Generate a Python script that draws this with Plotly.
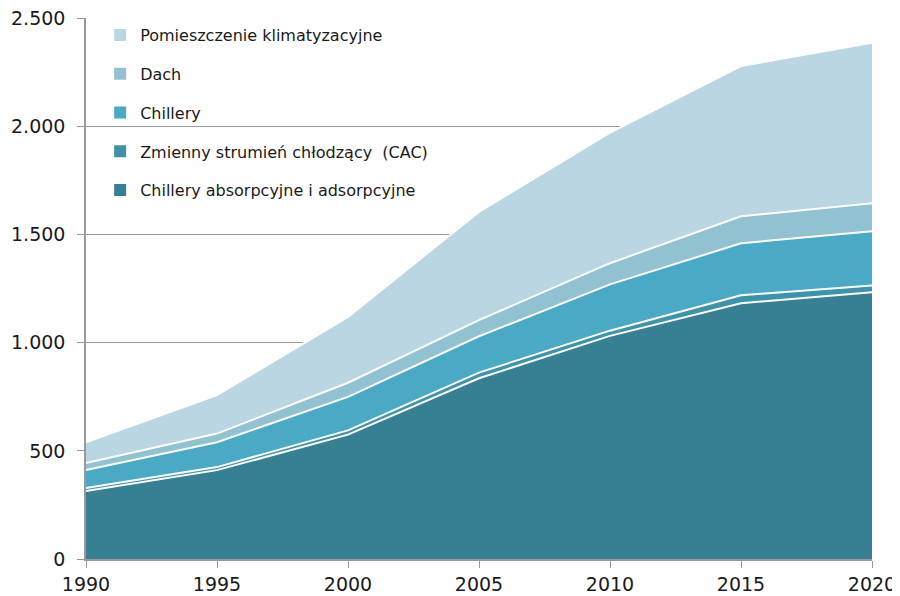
import plotly.graph_objects as go

years = [1990, 1995, 2000, 2005, 2010, 2015, 2020]

# stacked layers, bottom to top
absorpcyjne = [314, 411, 575, 836, 1032, 1183, 1234]
cac = [14, 14, 20, 26, 24, 37, 31]
chillery = [83, 115, 155, 168, 214, 240, 251]
dach = [33, 40, 65, 75, 98, 125, 129]
pomieszczenie = [96, 178, 305, 500, 604, 695, 743]

series = [
    ("Chillery absorpcyjne i adsorpcyjne", absorpcyjne, "#377f93"),
    ("Zmienny strumień chłodzący  (CAC)", cac, "#3d93aa"),
    ("Chillery", chillery, "#4aaac5"),
    ("Dach", dach, "#92c1d1"),
    ("Pomieszczenie klimatyzacyjne", pomieszczenie, "#b9d6e2"),
]

fig = go.Figure()
for name, values, color in series:
    fig.add_trace(
        go.Scatter(
            x=years,
            y=values,
            name=name,
            mode="lines",
            stackgroup="one",
            fillcolor=color,
            line=dict(color="white", width=2),
            showlegend=False,
        )
    )

# legend entries with square swatches, top layer first
for i, (name, values, color) in enumerate(reversed(series)):
    fig.add_trace(
        go.Scatter(
            x=[None],
            y=[None],
            name=name,
            mode="markers",
            legendgroup=str(i),
            marker=dict(symbol="square", size=12, color=color),
        )
    )

# page body has an 8px margin, so the figure is a bit smaller than the window
fig.update_layout(
    width=892,
    height=588,
    margin=dict(l=78, r=28, t=10, b=37),
    plot_bgcolor="white",
    paper_bgcolor="white",
    separators=",.",
    font=dict(family="DejaVu Sans", color="#1a1a1a"),
    showlegend=True,
    legend=dict(
        x=0.018,
        y=1.0,
        xanchor="left",
        yanchor="top",
        traceorder="grouped",
        tracegroupgap=15,
        bgcolor="rgba(0,0,0,0)",
        font=dict(size=16, family="DejaVu Sans", color="#1a1a1a"),
        itemwidth=30,
    ),
)

fig.update_xaxes(
    range=[1990, 2020],
    tickvals=years,
    showgrid=False,
    showline=True,
    linecolor="#999999",
    linewidth=1.5,
    ticks="outside",
    ticklen=7,
    tickcolor="#999999",
    automargin=False,
    ticklabeloverflow="allow",
    tickfont=dict(size=19, family="DejaVu Sans", color="#1a1a1a"),
)
fig.update_yaxes(
    # a hair above 2500 so the top gridline is still drawn
    range=[0, 2502],
    tickvals=[0, 500, 1000, 1500, 2000, 2500],
    tickformat=",d",
    showgrid=True,
    gridcolor="#9a9a9a",
    gridwidth=1,
    zeroline=False,
    showline=True,
    linecolor="#999999",
    linewidth=1.5,
    ticks="outside",
    ticklen=7,
    tickcolor="#999999",
    ticklabelstandoff=8,
    automargin=False,
    ticklabeloverflow="allow",
    tickfont=dict(size=19, family="DejaVu Sans", color="#1a1a1a"),
)

fig.write_html("out.html")
